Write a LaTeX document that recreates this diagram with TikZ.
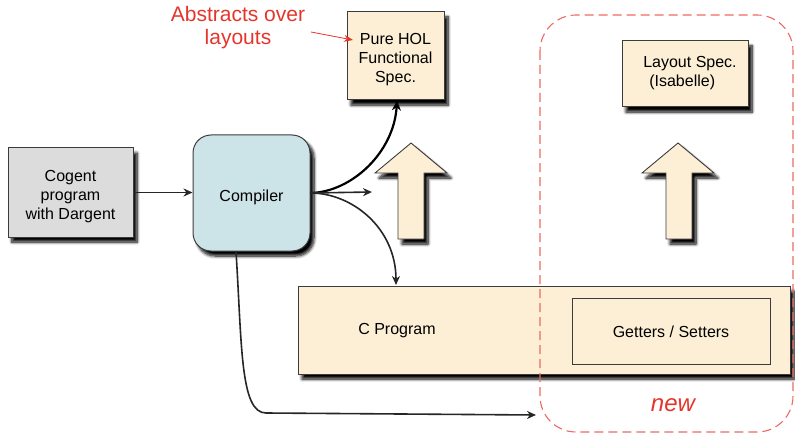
\documentclass[tikz,border=0pt]{standalone}
\usepackage{fontspec}
\setmainfont{Liberation Sans}
\usetikzlibrary{arrows.meta,shadows.blur}

\definecolor{beige}{HTML}{FCEFD6}
\definecolor{icebox}{HTML}{CCE3E8}
\definecolor{greybox}{HTML}{DCDCDC}
\definecolor{edge}{HTML}{3C3C3C}
\definecolor{note}{HTML}{E5352B}
\definecolor{zone}{HTML}{EC6A62}

\begin{document}
\begin{tikzpicture}[x=1pt,y=-1pt,
  shade/.style={blur shadow={shadow xshift=4pt,shadow yshift=-5pt,shadow blur radius=3pt,shadow opacity=100,shadow blur steps=8}},
  box/.style={draw=edge,line width=1pt,inner sep=0pt,align=center,
    font=\fontsize{16}{19}\selectfont},
  txt/.style={inner sep=0pt,align=center,font=\fontsize{16}{19}\selectfont},
  inlabel/.style={label={[txt,yshift=-4pt]center:{#1}}},
  bigarrow/.style={draw=edge,line width=0.9pt,fill=beige,shade},
  conn/.style={draw=black!85,line width=1.6pt,-{Stealth[length=9pt,width=8pt]}},
  thickconn/.style={draw=black,line width=2.2pt,-{Stealth[length=10pt,width=9pt]}}]

\useasboundingbox (0,0) rectangle (795,433);

% boxes
\node[box,shade,fill=greybox,minimum width=125pt,minimum height=89pt,
  inlabel={Cogent\\program\\with Dargent}] (cogent) at (70.5,192.5) {};
\node[box,shade,fill=icebox,rounded corners=18pt,minimum width=117pt,minimum height=116pt,
  inlabel={Compiler}] (comp) at (251.5,193) {};
\node[box,shade,fill=beige,minimum width=97pt,minimum height=88pt,
  inlabel={Pure HOL\\Functional\\Spec.}] (hol) at (395.5,56) {};
\node[box,shade,fill=beige,minimum width=126pt,minimum height=66pt] (lay) at (685,74) {};
\node[txt,align=left] (laytext) at (690,73) {Layout Spec.\\\hspace*{6pt}(Isabelle)};
\node[box,shade,fill=beige,minimum width=492pt,minimum height=88pt] (cprog) at (544,330) {};
\node[txt] (cprogtext) at (397,331) {C Program};
\node[box,fill=beige,minimum width=198pt,minimum height=66pt] (gs) at (671,331.5) {};
\node[txt] (gstext) at (671,332) {Getters / Setters};

% refinement arrows
\path[bigarrow] (411,143) -- (447,173) -- (424,173) -- (424,239) -- (398,239) -- (398,173) -- (375,173) -- cycle;
\path[bigarrow] (678,143) -- (714,173) -- (692,173) -- (692,239) -- (666,239) -- (666,173) -- (642,173) -- cycle;

% connectors
\coordinate (mid) at (372,192);
\coordinate (newend) at (536,415);
\coordinate (cptop) at (396,285);
\draw[conn] (cogent.east) -- (comp.west |- cogent.east);
\draw[thickconn] (comp.east) .. controls (352,192) and (394,152) .. (hol.south -| 397,0);
\draw[conn] (comp.east) -- (mid);
\draw[conn] (comp.east) .. controls (352,193) and (396,228) .. (cptop);
\draw[conn] (comp.south -| 236,0) .. controls (242,345) and (240,413) .. (266,413) -- (newend);

% annotation
\node[inner sep=0pt,align=center,text=note,font=\fontsize{21}{23}\selectfont] (abs) at (238,28)
  {Abstracts over\\layouts};
\coordinate (abstip) at (353,40);
\draw[note,line width=0.8pt,-{Stealth[length=9pt,width=7pt]}] (311,32) -- (abstip);

% new region
\draw[zone,line width=1.1pt,dash pattern=on 9pt off 5pt,rounded corners=36pt]
  (540,15) rectangle (793,432);
\node[inner sep=0pt,text=note,font=\fontsize{24}{28}\selectfont\itshape] (newlbl) at (673,405) {new};
\end{tikzpicture}
\end{document}
